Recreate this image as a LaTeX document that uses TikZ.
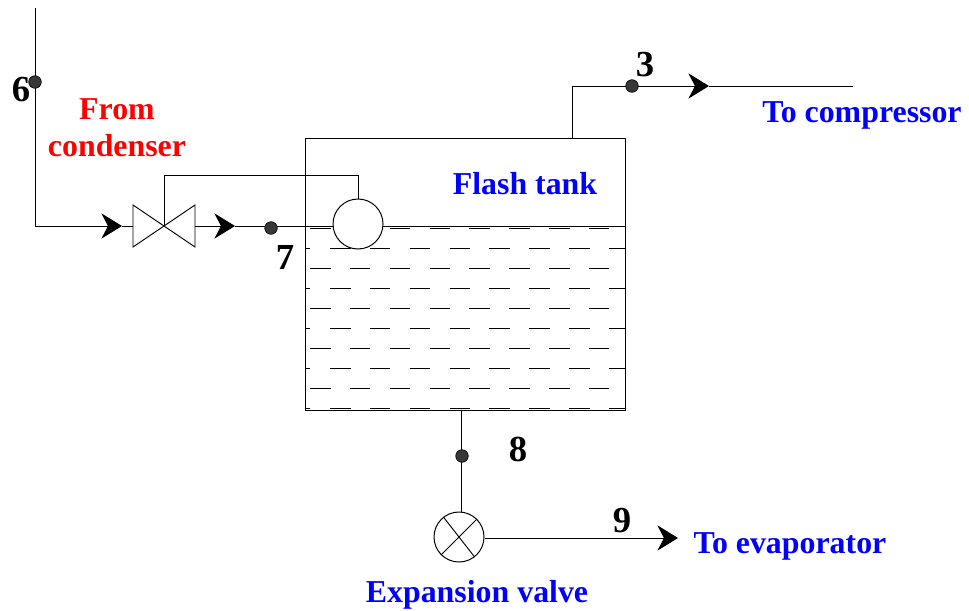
\documentclass[tikz,border=0pt]{standalone}
\usepackage{fontspec}
\setmainfont{Liberation Serif}
\usetikzlibrary{arrows.meta}
\definecolor{FigureBlue}{HTML}{0000FF}
\definecolor{FigureRed}{HTML}{FF0000}
\tikzset{
  pipe/.style={line width=.75pt},
  flow/.style={pipe,-{Stealth[length=15.5pt,width=19pt,inset=5pt]}},
  statedot/.style={circle,fill=black!78,draw=black,line width=.5pt,inner sep=0pt,minimum size=9.4pt},
  statenum/.style={font=\fontsize{27.5}{27.5}\selectfont\bfseries},
  bluelabel/.style={font=\fontsize{23.9}{28}\selectfont\bfseries,text=FigureBlue,inner sep=0pt},
  redlabel/.style={font=\fontsize{23.9}{28}\selectfont\bfseries,text=FigureRed,inner sep=0pt,align=center},
  ballvalve/.style={circle,draw,fill=white,line width=.75pt,inner sep=0pt,minimum size=37.5pt}
}
\begin{document}
\begin{tikzpicture}[x=.75pt,y=-.75pt]
  \useasboundingbox (0,0) rectangle (969,610);
  % tank and liquid
  \node[draw,pipe,minimum width=240pt,minimum height=204pt,inner sep=0pt] (tank) at (465,274) {};
  \foreach \y in {228,268,308,348,388}
    \foreach \x in {0,...,7}
      \draw[line width=.7pt] (310+\x*39.85,\y) -- ++(20.5,0);
  \foreach \y in {248,288,328,368,408}{
    \draw[line width=.7pt] (305,\y) -- (310,\y);
    \draw[line width=.7pt] (609,\y) -- (625,\y);
    \foreach \x in {0,...,6}
      \draw[line width=.7pt] (330+\x*39.85,\y) -- ++(20.5,0);
  }
  % feed line
  \coordinate (feedtop) at (35,8);
  \coordinate (feedbend) at (35,226);
  \coordinate (arrow1) at (122,226);
  \coordinate (valve) at (164,226);
  \coordinate (valvein) at (133,226);
  \coordinate (valveout) at (195,226);
  \coordinate (arrow2) at (235,226);
  \coordinate (levelend) at (625,226);
  \draw[pipe] (feedtop) -- (feedbend);
  \draw[flow] (feedbend) -- (arrow1);
  \draw[pipe] (arrow1) -- (valvein);
  \draw[flow] (valveout) -- (arrow2);
  \draw[pipe] (arrow2) -- (levelend);
  \draw[line width=.7pt,fill=white] (valve) -- ++(-31,-21) -- ++(0,42) -- cycle;
  \draw[line width=.7pt,fill=white] (valve) -- ++(31,-21) -- ++(0,42) -- cycle;
  % float and its linkage
  \node[ballvalve] (float) at (358,224) {};
  \coordinate (linkbend) at (164,175);
  \draw[pipe] (valve) -- (linkbend) -| (float.north);
  % vapour outlet
  \coordinate (outbend) at (572,86);
  \coordinate (arrow3) at (709,86);
  \coordinate (outend) at (853,86);
  \draw[pipe] (tank.north -| outbend) -- (outbend);
  \draw[flow] (outbend) -- (arrow3);
  \draw[pipe] (arrow3) -- (outend);
  % liquid outlet
  \node[ballvalve] (expvalve) at (459,537) {};
  \coordinate (expin) at (461,512);
  \coordinate (expend) at (678,538);
  \draw[pipe] (tank.south -| expin) -- (expin);
  \draw[line width=.7pt] (expvalve.128) -- (expvalve.-52);
  \draw[line width=.7pt] (expvalve.45) -- (expvalve.225);
  \draw[flow] (expvalve.east |- expend) -- (expend);
  % state points
  \node[statedot] (dot6) at (35,82) {};
  \node[statedot] (dot7) at (271,228) {};
  \node[statedot] (dot3) at (632,86) {};
  \node[statedot] (dot8) at (462,456) {};
  \node[statenum] (num6) at (21,90) {6};
  \node[statenum] (num7) at (285,257) {7};
  \node[statenum] (num3) at (645,65) {3};
  \node[statenum] (num8) at (518,449) {8};
  \node[statenum] (num9) at (622,521) {9};
  % labels
  \node[redlabel] (fromlabel) at (117,128) {From\\condenser};
  \node[bluelabel] (tanklabel) at (525,184) {Flash tank};
  \node[bluelabel] (complabel) at (862,115) {To compressor};
  \node[bluelabel] (evaplabel) at (790,546) {To evaporator};
  \node[bluelabel] (explabel) at (477,595) {Expansion valve};
\end{tikzpicture}
\end{document}
